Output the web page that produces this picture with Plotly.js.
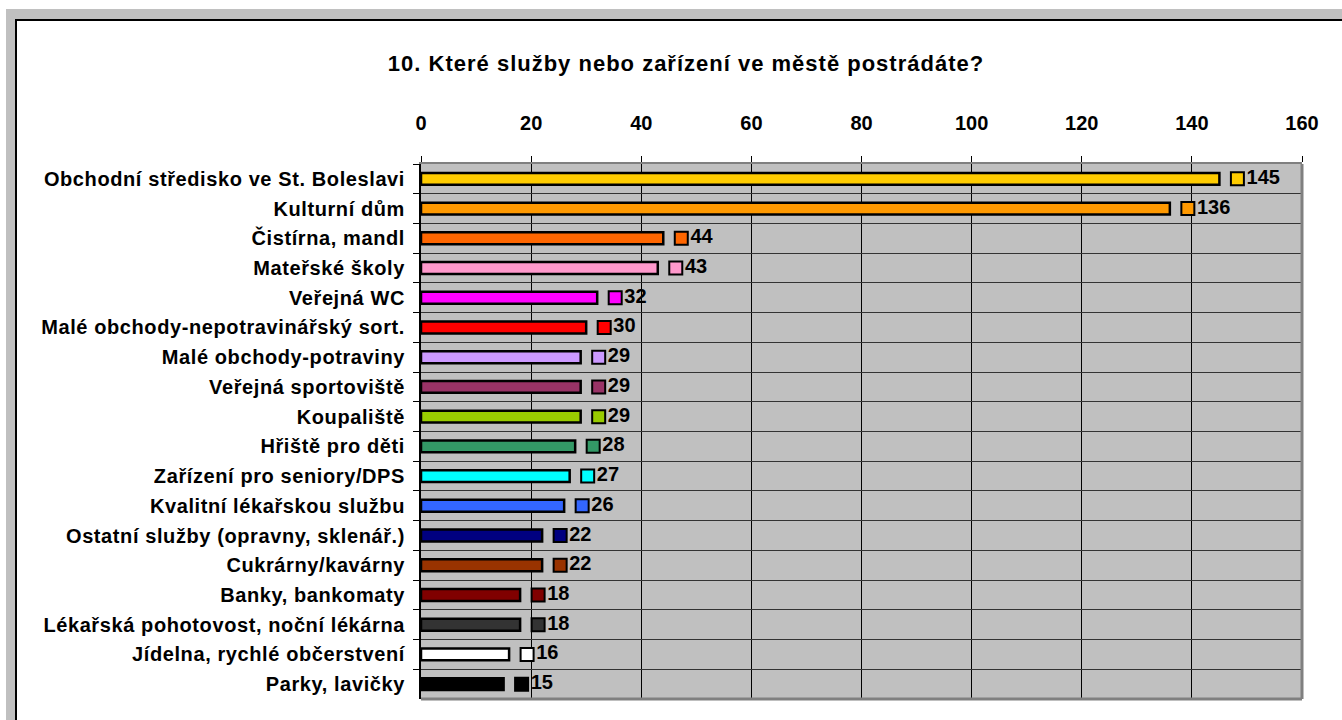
<!DOCTYPE html>
<html>
<head>
<meta charset="utf-8">
<script src="https://cdn.plot.ly/plotly-3.0.1.min.js"></script>
<style>
  html, body { margin: 0; padding: 0; background: #ffffff; width: 1342px; height: 720px; overflow: hidden; }
  #frame { position: absolute; left: 6px; top: 9px; width: 1336px; height: 711px; background: #C0C0C0; }
  #inner { position: absolute; left: 15px; top: 19px; width: 1327px; height: 701px; background: #ffffff;
           border-left: 2px solid #000; border-top: 2px solid #000; box-sizing: border-box; }
  #chart { position: absolute; left: 0; top: 0; width: 1342px; height: 720px; }
  #chart .ytick text { letter-spacing: 0.6px; }
  #chart .gtitle { letter-spacing: 1px; }
</style>
</head>
<body>
<div id="frame"></div>
<div id="inner"></div>
<div id="chart"></div>
<script>
const categories = [
  "Obchodní středisko ve St. Boleslavi",
  "Kulturní dům",
  "Čistírna, mandl",
  "Mateřské školy",
  "Veřejná WC",
  "Malé obchody-nepotravinářský sort.",
  "Malé obchody-potraviny",
  "Veřejná sportoviště",
  "Koupaliště",
  "Hřiště pro děti",
  "Zařízení pro seniory/DPS",
  "Kvalitní lékařskou službu",
  "Ostatní služby (opravny, sklenář.)",
  "Cukrárny/kavárny",
  "Banky, bankomaty",
  "Lékařská pohotovost, noční lékárna",
  "Jídelna, rychlé občerstvení",
  "Parky, lavičky"
];
const values = [145, 136, 44, 43, 32, 30, 29, 29, 29, 28, 27, 26, 22, 22, 18, 18, 16, 15];
const colors = ["#FFCC00", "#FF9900", "#FF6600", "#FF99CC", "#FF00FF", "#FF0000", "#CC99FF", "#993366",
                "#99CC00", "#339966", "#00FFFF", "#3366FF", "#000080", "#993300", "#800000", "#333333",
                "#FFFFFF", "#000000"];
const xTicks = [0, 20, 40, 60, 80, 100, 120, 140, 160];
const title = "10. Které služby nebo zařízení ve městě postrádáte?";

const W = 1342, H = 720;
const margin = {l: 421, r: 40, t: 164, b: 21};
const xMax = 160;
const pxPerUnit = (W - margin.l - margin.r) / xMax;
const keyOffsetPx = 18;
const keyX = values.map(v => v + keyOffsetPx / pxPerUnit);
const FONT = "Liberation Sans, Arial, sans-serif";

const bars = {
  type: "bar", orientation: "h",
  x: values, y: categories,
  width: 0.4,
  marker: {color: colors, line: {color: "#000000", width: 2.5}},
  hoverinfo: "x+y", showlegend: false
};
const keys = {
  type: "scatter", mode: "markers+text",
  x: keyX, y: categories,
  text: values.map(String),
  textposition: "middle right",
  textfont: {family: FONT, size: 20, color: "#000000", weight: "bold"},
  marker: {symbol: "square", size: 13, color: colors, line: {color: "#000000", width: 2}},
  cliponaxis: false,
  hoverinfo: "skip", showlegend: false
};

const layout = {
  width: W, height: H,
  margin: margin,
  paper_bgcolor: "rgba(0,0,0,0)",
  plot_bgcolor: "#C0C0C0",
  showlegend: false,
  bargap: 0.6,
  font: {family: FONT, color: "#000000"},
  title: {
    text: title,
    font: {family: FONT, size: 22, weight: "bold", color: "#000000"},
    xref: "container", x: 686 / W, xanchor: "center",
    yref: "container", y: 1 - 63 / H, yanchor: "middle"
  },
  xaxis: {
    side: "top", range: [0, xMax],
    tickvals: xTicks, ticktext: xTicks.map(String),
    tickfont: {family: FONT, size: 20, weight: "bold", color: "#000000"},
    ticks: "outside", ticklen: 6, tickcolor: "#000000", tickwidth: 1,
    ticklabelstandoff: 18,
    showgrid: true, gridcolor: "#000000", gridwidth: 1,
    showline: true, linecolor: "#808080", linewidth: 2,
    zeroline: false, fixedrange: true
  },
  yaxis: {
    type: "category", autorange: false, range: [categories.length - 0.5, -0.5],
    tickson: "boundaries",
    tickfont: {family: FONT, size: 20, weight: "bold", color: "#000000"},
    ticks: "outside", ticklen: 6, tickcolor: "#000000", tickwidth: 1,
    ticklabelstandoff: 10,
    showgrid: true, gridcolor: "#333333", gridwidth: 1,
    showline: true, linecolor: "#000000", linewidth: 2,
    zeroline: false, fixedrange: true
  },
  shapes: [
    {type: "line", xref: "paper", yref: "paper", x0: 1, x1: 1, y0: 0, y1: 1, line: {color: "#808080", width: 3}},
    {type: "line", xref: "paper", yref: "paper", x0: 0, x1: 1, y0: 0, y1: 0, line: {color: "#808080", width: 3}}
  ]
};

Plotly.newPlot("chart", [bars, keys], layout, {displayModeBar: false, staticPlot: true});
</script>
</body>
</html>
